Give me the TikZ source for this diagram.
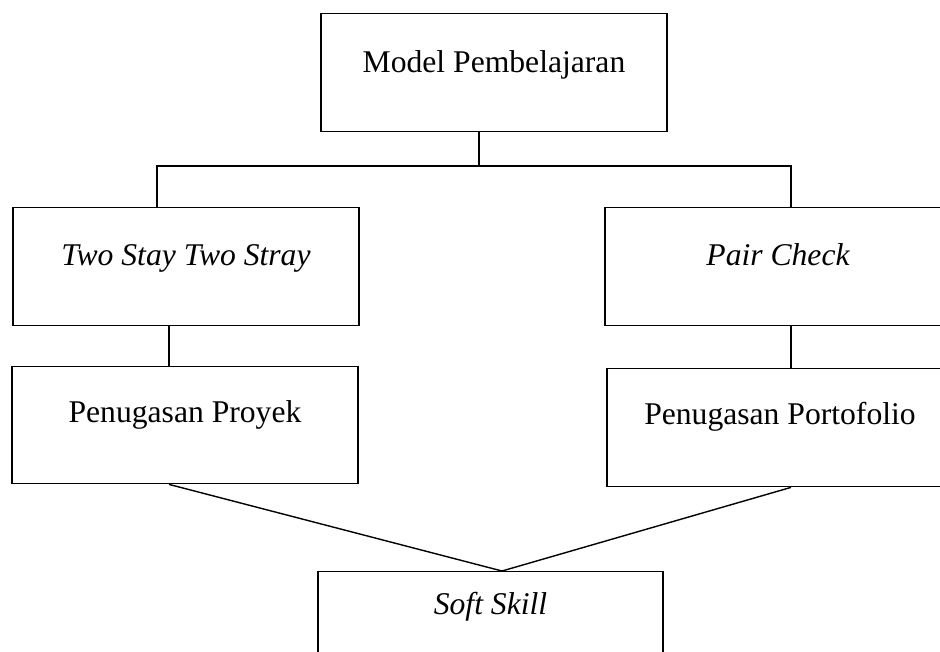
\documentclass[tikz,border=0pt]{standalone}
\usepackage{fontspec}
\setmainfont{Liberation Serif}
\usetikzlibrary{positioning}

\begin{document}
\begin{tikzpicture}[
    x=0.02cm, y=-0.02cm,
    box/.style={rectangle, draw, line width=0.8pt, inner sep=0pt, anchor=north,
                minimum width=6.92cm, font=\fontsize{18}{22}\selectfont},
    line/.style={line width=0.8pt}
]

\useasboundingbox (0,0) rectangle (940,652);
\clip (0,0) rectangle (940,652);

% --- Top box ---
\node[box, text height=1.18cm, text depth=1.18cm] (model) at (494,13) {Model Pembelajaran};

% --- Learning models ---
\node[box, text height=1.16cm, text depth=1.2cm] (tsts) at (186,207) {\itshape Two Stay Two Stray};
\node[box, text height=1.16cm, text depth=1.2cm] (pair) at (778,207) {\itshape Pair Check};

% --- Assignments ---
\node[box, text height=1.12cm, text depth=1.22cm] (proyek) at (185,366) {Penugasan Proyek};
\node[box, text height=1.12cm, text depth=1.24cm] (portofolio) at (780,368) {Penugasan Portofolio};

% --- Result ---
\node[box, minimum width=6.9cm, text height=0.86cm, text depth=2.4cm] (soft) at (490.5,571) {\itshape Soft Skill};

% --- Helper points ---
\coordinate (bus) at (479,166);
\coordinate (lbus) at (157,166);
\coordinate (rbus) at (791,166);
\coordinate (lstem) at (169,345);
\coordinate (rstem) at (791,345);
\coordinate (apex) at (502,571);

% --- Tree connectors ---
\draw[line] (bus |- model.south) -- (bus);
\draw[line] (lbus |- tsts.north) -- (lbus) -- (rbus) -- (rbus |- pair.north);
\draw[line] (tsts.south -| lstem) -- (proyek.north -| lstem);
\draw[line] (pair.south -| rstem) -- (portofolio.north -| rstem);

% --- Into soft skill ---
\draw[line] (proyek.south -| lstem) -- (apex) -- (portofolio.south -| rstem);

\end{tikzpicture}
\end{document}
